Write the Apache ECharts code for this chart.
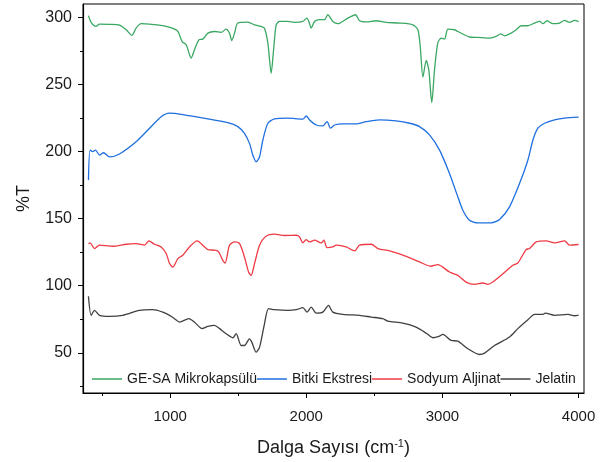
<!DOCTYPE html>
<html>
<head>
<meta charset="utf-8">
<script src="https://cdn.jsdelivr.net/npm/echarts@6/dist/echarts.min.js"></script>
<style>
  html, body { margin: 0; padding: 0; background: #fff; }
  #chart { width: 603px; height: 462px; }
</style>
</head>
<body>
<div id="chart"></div>
<script>
// wavenumber (cm-1), %T
const geSa = [
  [400,301.3],[420,296.3],[456,293.3],[481,295],[555,294.8],[628,294.3],[677,290.8],[719,286.6],[750,292],[787,295.3],
  [849,295],[946,293.8],[1020,291.8],[1057,289.5],[1088,282],[1118,279.6],[1154,269.7],[1179,275.9],[1211,283.3],[1240,283.8],
  [1277,288.3],[1326,289.5],[1375,288.8],[1411,291.3],[1436,288.3],[1453,282.8],[1473,288.3],[1497,295.8],[1571,296.5],[1620,294.5],
  [1668,293.3],[1693,292],[1718,280.9],[1742,258.4],[1760,275.9],[1779,294.5],[1804,297],[1865,297],[1914,296.3],[1975,297],
  [2004,299.5],[2019,297],[2036,292],[2061,297],[2097,298.3],[2134,298.3],[2158,302],[2195,297],[2232,295.3],[2305,299.5],
  [2362,302],[2391,297.5],[2440,296.6],[2513,297.5],[2587,296.3],[2685,295.8],[2783,294.5],[2820,290.8],[2837,278.3],[2857,255.5],
  [2881,267.9],[2900,260.9],[2922,236.5],[2942,260.9],[2966,280.9],[2991,284.6],[3016,283.8],[3040,291.3],[3089,290.8],[3113,289.5],
  [3199,285.4],[3260,285.1],[3346,284.6],[3395,285.8],[3427,287.8],[3457,286.3],[3505,288.3],[3542,290.8],[3578,293.8],[3628,293.8],
  [3677,295.8],[3714,297],[3738,295.3],[3769,297.5],[3811,295.3],[3860,295.8],[3897,297.8],[3934,296.3],[3971,297.8],[4000,296.8]
];
const bitki = [
  [400,178.7],[412,201.1],[432,199.9],[452,201.1],[481,197.4],[511,199.1],[555,196.1],[628,198.2],[750,207.3],[849,217.4],
  [934,226],[996,228.6],[1093,227.5],[1277,224.3],[1424,221.5],[1497,218.6],[1546,213.6],[1583,206.1],[1607,197.4],[1632,192.4],
  [1657,196.1],[1681,208.6],[1718,221.1],[1767,224.3],[1865,224.9],[1914,224.6],[1975,224.1],[1999,226.5],[2024,223.6],[2073,219.8],
  [2122,219.1],[2153,222.3],[2178,217.4],[2208,219.8],[2269,220.6],[2366,220.6],[2440,222.3],[2538,223.6],[2660,222.8],[2759,221.1],
  [2832,218.6],[2905,212.4],[2979,201.1],[3052,183.7],[3113,166.3],[3150,156.3],[3199,148.8],[3260,146.8],[3358,146.8],[3420,149.4],
  [3493,158.8],[3567,176.3],[3628,193.7],[3665,208.6],[3701,217.4],[3750,221.1],[3824,223.6],[3897,224.9],[4000,225.6]
];
const aljinat = [
  [400,131.4],[412,131.9],[445,127.7],[481,130.2],[579,129.4],[677,130.9],[750,131.4],[812,130.2],[844,133.4],[885,130.9],
  [934,128.9],[971,124],[996,116.5],[1020,113.9],[1057,120.2],[1093,122.7],[1142,128.9],[1198,133.4],[1253,128.9],[1277,126.9],
  [1350,125.9],[1387,118.9],[1404,116.9],[1436,130.2],[1473,132.6],[1510,131.4],[1546,121.4],[1576,110.2],[1595,107.7],[1620,116.5],
  [1657,130.2],[1705,136.9],[1767,138.4],[1840,137.4],[1926,137.6],[1950,136.4],[1975,131.9],[1999,134.4],[2024,132.6],[2061,133.9],
  [2110,131.9],[2129,133.9],[2153,128.4],[2195,128.9],[2220,130.2],[2293,128.9],[2355,125.9],[2391,130.2],[2477,130.9],[2526,127.7],
  [2612,125.9],[2734,121.9],[2832,117.7],[2913,114.5],[2966,115.7],[3052,110.2],[3113,107.7],[3174,102.7],[3236,101],[3297,102],
  [3334,101],[3370,102.7],[3432,107.7],[3517,115.2],[3554,116.9],[3615,126.9],[3640,127.7],[3689,132.6],[3762,133.4],[3824,131.9],
  [3897,133.4],[3934,130.2],[4000,130.7]
];
const jelatin = [
  [400,92.1],[420,77.9],[445,81.6],[481,77.9],[555,77.1],[652,77.9],[775,81.6],[873,82.1],[946,80.3],[996,77.9],
  [1032,75.4],[1069,72.8],[1137,75.4],[1179,72.8],[1235,68],[1277,69.6],[1326,70.4],[1363,68],[1411,64.2],[1461,61.2],
  [1485,64.2],[1522,55.4],[1546,55.4],[1583,60.4],[1600,57.9],[1632,50.4],[1657,54.2],[1693,71.6],[1723,82.9],[1767,82.1],
  [1865,81.6],[1926,82.1],[1975,83.6],[2006,80.3],[2036,84],[2073,79.6],[2122,80.3],[2163,85.3],[2195,80.3],[2269,78.6],
  [2391,77.9],[2477,76.6],[2562,75.4],[2599,73.6],[2709,72.1],[2807,69.1],[2881,64.6],[2930,61.2],[2974,62.2],[3003,63.7],
  [3064,59.2],[3113,58.7],[3187,53],[3273,48.7],[3310,49.7],[3383,55.4],[3493,61.7],[3554,68],[3628,74.6],[3677,78.6],
  [3738,78.6],[3755,79.6],[3824,77.9],[3922,78.6],[3971,77.6],[4000,78.1]
];

const seriesNames = ['GE-SA Mikrokapsülü', 'Bitki Ekstresi', 'Sodyum Aljinat', 'Jelatin'];
const seriesColors = ['#3aa862', '#1f6fe0', '#ee3b45', '#404040'];
const xMajorTicks = [1000, 2000, 3000, 4000];
const xMinorTicks = [500, 1500, 2500, 3500];
const yMajorTicks = [50, 100, 150, 200, 250, 300];
const yMinorTicks = [25, 75, 125, 175, 225, 275];

const FONT = 'Arial, "Liberation Sans", Helvetica, sans-serif';
const chart = echarts.init(document.getElementById('chart'));

const xBase = { type: 'value', min: 360, max: 4040, position: 'bottom', splitLine: { show: false } };
const yBase = { type: 'value', min: 20, max: 310, position: 'left', splitLine: { show: false } };

chart.setOption({
  animation: false,
  textStyle: { fontFamily: FONT },
  grid: {
    left: 83, top: 4, right: 19, bottom: 69,
    show: true, borderColor: '#000', borderWidth: 1
  },
  legend: {
    data: seriesNames,
    left: 87, top: 367,
    icon: 'rect',
    itemWidth: 30, itemHeight: 2, itemGap: 0,
    itemStyle: { opacity: 0.75 },
    textStyle: { fontSize: 14, color: '#1a1a1a', fontFamily: FONT }
  },
  xAxis: [
    Object.assign({}, xBase, {
      name: 'Dalga Sayısı (cm{sup|-1})',
      nameLocation: 'middle', nameGap: 45,
      nameTextStyle: {
        fontSize: 18, color: '#1a1a1a', fontFamily: FONT,
        rich: { sup: { fontSize: 11, color: '#1a1a1a', fontFamily: FONT, padding: [0, 0, 9, 0] } }
      },
      axisLine: { show: true, lineStyle: { color: '#000', width: 1.2 } },
      axisTick: { show: true, customValues: xMajorTicks, length: 5, inside: false, lineStyle: { color: '#000', width: 1 } },
      axisLabel: { customValues: xMajorTicks, fontSize: 15, color: '#1a1a1a', margin: 16, fontFamily: FONT, formatter: v => String(v) }
    }),
    Object.assign({}, xBase, {
      axisLine: { show: false },
      axisTick: { show: true, customValues: xMinorTicks, length: 3, lineStyle: { color: '#000', width: 1 } },
      axisLabel: { show: false }
    })
  ],
  yAxis: [
    Object.assign({}, yBase, {
      name: '%T',
      nameLocation: 'middle', nameGap: 50, nameRotate: 90,
      nameTextStyle: { fontSize: 18, color: '#1a1a1a', fontFamily: FONT },
      axisLine: { show: true, lineStyle: { color: '#000', width: 1.2 } },
      axisTick: { show: true, customValues: yMajorTicks, length: 5, lineStyle: { color: '#000', width: 1 } },
      axisLabel: { customValues: yMajorTicks, fontSize: 16, color: '#1a1a1a', margin: 11, fontFamily: FONT, formatter: v => String(v) }
    }),
    Object.assign({}, yBase, {
      axisLine: { show: false },
      axisTick: { show: true, customValues: yMinorTicks, length: 3, lineStyle: { color: '#000', width: 1 } },
      axisLabel: { show: false }
    })
  ],
  series: [geSa, bitki, aljinat, jelatin].map((d, i) => ({
    name: seriesNames[i],
    type: 'line',
    data: d,
    xAxisIndex: 0, yAxisIndex: 0,
    symbol: 'none',
    smooth: 0.25,
    color: seriesColors[i],
    lineStyle: { width: 1.3, color: seriesColors[i] }
  }))
});
</script>
</body>
</html>
